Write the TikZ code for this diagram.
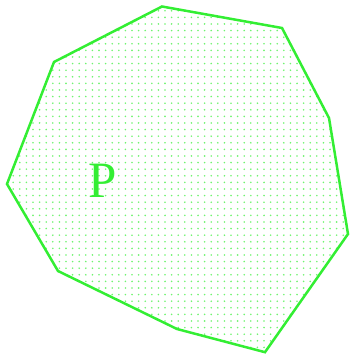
\documentclass[tikz,border=0pt]{standalone}
\usepackage{fontspec}
\setmainfont{Liberation Serif}
\usetikzlibrary{patterns.meta}
\definecolor{pgreen}{HTML}{33EE33}
\tikzset{
  poly/.style={draw=pgreen, line width=2.5pt, line join=miter,
    pattern={Dots[distance=6.6pt, radius=0.9pt]}, pattern color=pgreen!70},
  lbl/.style={text=pgreen, font=\fontsize{51}{51}\selectfont, inner sep=0pt}
}
\begin{document}
\begin{tikzpicture}[x=1pt,y=1pt]
\useasboundingbox (0,0) rectangle (349,354);
\coordinate (v1) at (162,347.5);
\coordinate (v2) at (282,326);
\coordinate (v3) at (329,236);
\coordinate (v4) at (348,120);
\coordinate (v5) at (265,1.8);
\coordinate (v6) at (177,25);
\coordinate (v7) at (58,83);
\coordinate (v8) at (7,170);
\coordinate (v9) at (54,292);
\path[poly] (v1) -- (v2) -- (v3) -- (v4) -- (v5) -- (v6) -- (v7) -- (v8) -- (v9) -- cycle;
\node[lbl, anchor=base] (p) at (102.5,156) {P};
\end{tikzpicture}
\end{document}
